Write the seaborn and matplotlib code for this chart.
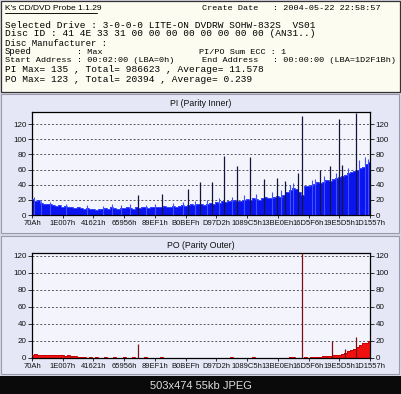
import matplotlib

matplotlib.use("Agg")
import matplotlib.pyplot as plt
import numpy as np
import seaborn as sns
from matplotlib.lines import Line2D
from matplotlib.patches import Rectangle

W, H = 402, 394

# x axis is in "tick units": 0 .. 11, one unit per labelled address
TICK_LABELS = ["70Ah", "1E007h", "41621h", "65956h", "89EF1h", "B0BEFh",
               "D97D2h", "1089C5h", "13BE0Eh", "16D5F6h", "19E5D5h", "1D1557h"]
Y_TICKS = [0, 20, 40, 60, 80, 100, 120]

# PI baseline, one value every 0.1 tick unit (111 values)
PI_BASE = [
    21, 18, 20, 16, 15, 14, 15, 13, 12, 13,
    11, 12, 10, 11, 9, 10, 9, 8, 9, 8,
    8, 7, 8, 8, 9, 8, 10, 9, 8, 9,
    9, 10, 9, 8, 10, 9, 11, 10, 9, 10,
    10, 11, 10, 12, 11, 10, 12, 11, 12, 13,
    12, 13, 14, 13, 15, 14, 13, 15, 16, 15,
    17, 16, 18, 17, 19, 18, 20, 19, 18, 20,
    21, 20, 22, 21, 20, 22, 24, 23, 22, 24,
    25, 24, 27, 30, 33, 36, 34, 30, 27, 38,
    38, 40, 41, 43, 42, 44, 46, 45, 47, 49,
    50, 52, 53, 55, 57, 58, 60, 62, 64, 68,
    70,
]
# short lighter peaks sitting just above the baseline
PI_PEAK_POS = [0.05, 0.3, 0.6, 1.1, 1.8, 2.3, 2.6, 2.9, 3.2, 3.7, 4.0, 4.6,
               4.9, 5.3, 5.7, 6.1, 6.5, 6.9, 7.3, 7.8, 8.1, 8.4, 8.5, 9.1,
               9.2, 9.5, 9.9, 10.3, 10.65, 10.85, 10.95]
PI_PEAK_VAL = [24, 19, 17, 14, 13, 12, 14, 13, 14, 13, 15, 16,
               17, 19, 20, 22, 24, 26, 28, 30, 33, 40, 42, 46,
               48, 52, 56, 62, 72, 76, 74]
# tall dark spikes
PI_SPIKE_POS = [3.44, 4.24, 5.07, 5.47, 5.86, 6.25, 6.67, 7.08,
                7.55, 7.98, 8.23, 8.66, 8.78, 9.37, 9.7, 10.0, 10.1, 10.54]
PI_SPIKE_VAL = [26, 28, 34, 44, 44, 78, 65, 77,
                48, 49, 45, 56, 131, 60, 65, 127, 66, 135]

# PO baseline, same sampling
PO_BASE = [
    4, 5, 4, 4, 3, 4, 3, 3, 3, 3,
    3, 2, 3, 2, 2, 1, 1, 1, 0, 1,
    0, 1, 0, 0, 1, 0, 0, 1, 0, 0,
    1, 0, 0, 1, 0, 0, 0, 1, 0, 0,
    0, 0, 1, 0, 0, 0, 0, 0, 0, 0,
    0, 0, 0, 0, 0, 0, 0, 0, 0, 0,
    0, 0, 0, 0, 0, 1, 0, 0, 0, 0,
    0, 0, 1, 0, 0, 0, 0, 0, 0, 0,
    0, 0, 0, 0, 1, 1, 0, 0, 0, 1,
    0, 1, 1, 1, 1, 2, 2, 2, 3, 3,
    4, 5, 6, 8, 9, 11, 13, 15, 17, 18,
    20,
]
PO_SPIKE_POS = [3.44, 8.79, 9.77, 10.2, 10.54]
PO_SPIKE_VAL = [16, 123, 20, 10, 25]

# header text: (text, x px, y px, font size)
HEADER = [
    ("Create Date", 202, 8, 6.1),
    (": 2004-05-22 22:58:57", 273, 8, 6.1),
    ("Selected Drive : 3-0-0-0 LITE-ON DVDRW SOHW-832S  VS01", 5, 25, 6.8),
    ("Disc ID : 41 4E 33 31 00 00 00 00 00 00 00 00 (AN31..)", 5, 34, 6.8),
    ("Disc Manufacturer :", 5, 43, 6.4),
    ("Speed", 5, 52, 6.4),
    (": Max", 77, 52, 6.1),
    ("PI/PO Sum ECC : 1", 199, 52, 6.1),
    ("Start Address", 5, 61, 6.1),
    (": 00:02:00 (LBA=0h)", 77, 61, 6.1),
    ("End Address", 202, 61, 6.1),
    (": 00:00:00 (LBA=1D2F1Bh)", 273, 61, 6.1),
    ("PI Max= 135 , Total= 986623 , Average= 11.578", 5, 70, 6.8),
    ("PO Max= 123 , Total= 20394 , Average= 0.239", 5, 79, 6.8),
]


def fx(px):
    return px / W


def fy(py):
    return 1 - py / H


def add_box(fig, x0, y0, x1, y1, face, edge, lw=0.8):
    fig.patches.append(Rectangle((fx(x0), fy(y1)), fx(x1) - fx(x0), fy(y0) - fy(y1),
                                 transform=fig.transFigure, facecolor=face,
                                 edgecolor=edge, linewidth=lw, zorder=-5))


def draw_panel(fig, top, bottom, title, title_y, base, spikes, peaks,
               fill_color, edge_color, spike_color, ymax):
    ax = fig.add_axes([fx(32), fy(bottom), fx(370) - fx(32), fy(top) - fy(bottom)])
    ax.set_facecolor("#f4f5fc")
    pos = np.arange(len(base)) / 10
    ax.fill_between(pos, 0, base, step="mid", color=fill_color, linewidth=0, zorder=2)
    sns.lineplot(x=pos, y=base, drawstyle="steps-mid", color=edge_color,
                 linewidth=0.6, ax=ax, zorder=3)
    if peaks is not None:
        ax.vlines(peaks[0], 0, peaks[1], color=edge_color, linewidth=0.8, zorder=3)
    ax.vlines(spikes[0], 0, spikes[1], color=spike_color, linewidth=0.9, zorder=4)
    for yv in Y_TICKS[1:]:
        ax.axhline(yv, color="#555566", linewidth=0.7, linestyle=(0, (2, 2)), zorder=1)
    ax.set_xlim(0, 11)
    ax.set_ylim(0, ymax)
    ax.set_xticks(range(12))
    ax.set_xticklabels(TICK_LABELS)
    ax.set_yticks(Y_TICKS)
    ax.tick_params(axis="y", left=True, right=True, labelleft=True, labelright=True,
                   direction="out", length=3, width=0.6, pad=1, labelsize=5.8,
                   colors="#111111")
    ax.tick_params(axis="x", bottom=True, direction="out", length=2, width=0.6,
                   pad=1.5, labelsize=5.5, colors="#111111")
    for s in ax.spines.values():
        s.set_color("#000000")
        s.set_linewidth(0.9)
    ax.set_xlabel("")
    ax.set_ylabel("")
    fig.text(fx(201), fy(title_y), title, ha="center", va="center",
             fontsize=6.3, color="#111111")
    return ax


def main():
    sns.set_style("white")
    plt.rcParams["font.family"] = ["Liberation Sans", "DejaVu Sans"]

    fig = plt.figure(figsize=(W / 100, H / 100), dpi=100)
    fig.patch.set_facecolor("#d8d8e4")

    add_box(fig, 1.5, 1.5, 400, 92, "#fdfcf0", "#333333", 0.9)
    add_box(fig, 1.5, 94, 399.5, 233, "#e6e7f6", "#9a9aae")
    add_box(fig, 1.5, 236, 399.5, 374, "#e6e7f6", "#9a9aae")
    add_box(fig, 0, 376, W, H, "#0a0a0a", "#0a0a0a", 0)

    fig.text(fx(5), fy(8), "K's CD/DVD Probe 1.1.29", fontsize=6.0, color="#000000",
             va="center", ha="left")
    fig.add_artist(Line2D([fx(5), fx(97)], [fy(12.5), fy(12.5)], color="#111111",
                          linewidth=0.7, transform=fig.transFigure))
    for txt, xx, yy, size in HEADER:
        fig.text(fx(xx), fy(yy), txt, family=["Liberation Mono", "DejaVu Sans Mono"],
                 fontsize=size, color="#000000", va="center", ha="left")

    draw_panel(fig, 112, 215, "PI (Parity Inner)", 104, PI_BASE,
               (PI_SPIKE_POS, PI_SPIKE_VAL), (PI_PEAK_POS, PI_PEAK_VAL),
               "#0a14f0", "#4050ff", "#14143c", 136)
    draw_panel(fig, 253, 358, "PO (Parity Outer)", 246, PO_BASE,
               (PO_SPIKE_POS, PO_SPIKE_VAL), None,
               "#f01010", "#c00000", "#7a1010", 123)

    fig.text(fx(201), fy(386), "503x474 55kb JPEG", ha="center", va="center",
             fontsize=8, color="#dddddd")

    fig.savefig("out.png", dpi=100, facecolor=fig.get_facecolor())
    plt.close(fig)


if __name__ == "__main__":
    main()
